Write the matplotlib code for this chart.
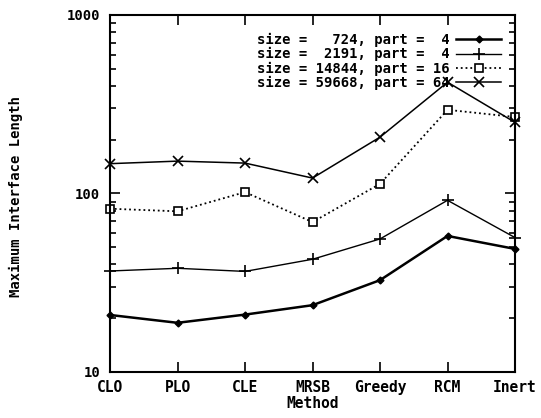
import matplotlib
matplotlib.use("Agg")
import matplotlib.pyplot as plt
from matplotlib.ticker import LogLocator, NullFormatter, FixedLocator

methods = ["CLO", "PLO", "CLE", "MRSB", "Greedy", "RCM", "Inert"]
sizes = [724, 2191, 14844, 59668]
parts = [4, 4, 16, 64]
s724 = [20.8, 18.8, 20.9, 23.6, 32.6, 57.7, 48.8]
s2191 = [36.7, 38.0, 36.5, 42.7, 55.5, 91.4, 56.5]
s14844 = [82.0, 79.3, 101.6, 69.0, 113.0, 294.0, 268.0]
s59668 = [146.7, 151.6, 147.8, 121.8, 206.6, 420.0, 250.0]
series = [s724, s2191, s14844, s59668]

mono = "DejaVu Sans Mono"
plt.rcParams["font.family"] = mono

fig = plt.figure(figsize=(5.41, 4.18), dpi=100)
ax = fig.add_axes([110/541, 1-371.7/418, 405/541, (371.7-15)/418])

styles = [
    dict(marker="D", ms=3.5, ls="-", lw=1.8, mfc="black"),
    dict(marker="+", ms=8, ls="-", lw=1.0, mew=1.2),
    dict(marker="s", ms=6, ls=":", lw=1.3, mfc="white", mew=1.2),
    dict(marker="x", ms=7, ls="-", lw=1.1, mew=1.2),
]
x = list(range(len(methods)))
for vals, sz, pt, st in zip(series, sizes, parts, styles):
    ax.plot(x, vals, color="black", label="size = %5d, part = %2d" % (sz, pt),
            clip_on=False, **st)

ax.set_yscale("log")
ax.set_ylim(10, 1000)
ax.set_xlim(0, 6)
ax.set_xticks(x)
ax.set_xticklabels(methods, fontsize=10.5, fontweight="bold")
ax.yaxis.set_major_locator(FixedLocator([10, 100, 1000]))
ax.set_yticklabels(["10", "100", "1000"], fontsize=10, fontweight="bold")
ax.yaxis.set_minor_locator(LogLocator(base=10, subs=range(2, 10)))
ax.yaxis.set_minor_formatter(NullFormatter())
ax.tick_params(axis="both", which="both", direction="in", top=True, right=True,
               width=1.2)
ax.tick_params(axis="x", which="major", length=7, pad=6)
ax.tick_params(axis="y", which="major", length=7, pad=7)
ax.tick_params(axis="y", which="minor", length=4)
for sp in ax.spines.values():
    sp.set_linewidth(1.5)

ax.set_xlabel("Method", fontsize=10.5, fontweight="bold", labelpad=1)
ax.set_ylabel("Maximum Interface Length", fontsize=10, fontweight="bold")
ax.yaxis.set_label_coords(-0.215, 0.49)

leg = ax.legend(loc="upper right", bbox_to_anchor=(0.965, 0.95), frameon=False,
                markerfirst=False, handlelength=3.2,
                prop={"family": mono, "size": 10, "weight": "bold"},
                handletextpad=0.5, labelspacing=0.02, borderpad=0,
                borderaxespad=0)

fig.savefig("out.png", dpi=100)
